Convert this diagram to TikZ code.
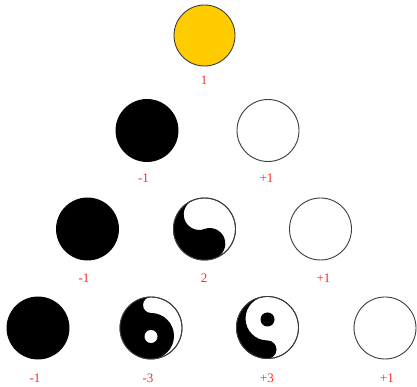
\documentclass[tikz,border=0pt]{standalone}
\usepackage{fontspec}
\setmainfont{Liberation Serif}
\definecolor{labelred}{RGB}{255,40,40}
\definecolor{goldfill}{RGB}{255,204,0}
\definecolor{rimgray}{RGB}{60,60,60}
\tikzset{
  disc/.style={circle, inner sep=0pt, minimum size=62pt, draw=rimgray, line width=0.9pt},
  blackdisc/.style={disc, fill=black, draw=black},
  whitedisc/.style={disc, fill=white},
  golddisc/.style={disc, fill=goldfill, minimum size=61pt},
  rim/.style={draw=rimgray, line width=0.9pt},
  lbl/.style={text=labelred, font=\fontsize{13}{15}\selectfont, inner sep=0pt}
}
\begin{document}
\begin{tikzpicture}[x=1pt,y=1pt]
\useasboundingbox (0,0) rectangle (417,387);
% row 1
\node[golddisc] (a1) at (204.5,351.5) {};
\node[lbl] (la1) at (204,306.5) {1};
% row 2
\node[blackdisc] (b1) at (147,256.5) {};
\node[whitedisc] (b2) at (268,256.5) {};
\node[lbl] (lb1) at (143.5,209) {-1};
\node[lbl] (lb2) at (266.5,209) {+1};
% row 3
\node[blackdisc] (c1) at (87.5,158) {};
\node[whitedisc] (c2) at (204.5,158) {};
\node[whitedisc] (c3) at (320.5,158) {};
\begin{scope}[shift={(c2.center)}, rotate=20]
  \fill[black] (0,31) arc[start angle=90,end angle=270,radius=31]
    arc[start angle=-90,end angle=90,radius=15.5]
    arc[start angle=-90,end angle=-270,radius=15.5] -- cycle;
\end{scope}
\draw[rim] (c2.center) circle[radius=31];
\node[lbl] (lc1) at (84,108.5) {-1};
\node[lbl] (lc2) at (204,108.5) {2};
\node[lbl] (lc3) at (323.5,108.5) {+1};
% row 4
\node[blackdisc] (d1) at (38,59) {};
\node[whitedisc] (d2) at (151,59) {};
\node[whitedisc] (d3) at (267.5,59.5) {};
\node[whitedisc] (d4) at (385,59) {};
% -3 : mostly black, white tail on the right, white dot
\begin{scope}[shift={(d2.center)}]
  \fill[black] (0,31) arc[start angle=90,end angle=270,radius=31]
    arc[start angle=-90,end angle=90,radius=23]
    arc[start angle=-90,end angle=-270,radius=8] -- cycle;
  \fill[white] (0,-8.5) circle[radius=6.5];
\end{scope}
\draw[rim] (d2.center) circle[radius=31];
% +3 : mostly white, black tail on the left, black dot
\begin{scope}[shift={(d3.center)}]
  \fill[black] (0,31) arc[start angle=90,end angle=270,radius=31]
    arc[start angle=-90,end angle=90,radius=9]
    arc[start angle=-90,end angle=-270,radius=22] -- cycle;
  \fill[black] (0,8) circle[radius=7];
\end{scope}
\draw[rim] (d3.center) circle[radius=31];
\node[lbl] (ld1) at (35,8.5) {-1};
\node[lbl] (ld2) at (148,8.5) {-3};
\node[lbl] (ld3) at (267,8.5) {+3};
\node[lbl] (ld4) at (387,8.5) {+1};
\end{tikzpicture}
\end{document}
